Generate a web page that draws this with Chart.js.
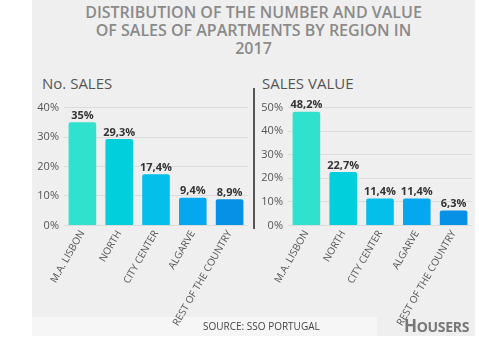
<!DOCTYPE html>
<html><head><meta charset="utf-8">
<script src="https://cdn.jsdelivr.net/npm/chart.js@4/dist/chart.umd.min.js"></script>
<style>
html,body{margin:0;padding:0;background:#fff;}
body{width:479px;height:354px;position:relative;overflow:hidden;font-family:"Open Sans",sans-serif;}
#panel{position:absolute;left:32px;top:0;width:443px;height:336px;background:#efefef;}
#title{position:absolute;left:32px;width:443px;top:3px;text-align:center;color:#8a8a8a;font-weight:600;font-size:16px;line-height:18px;}
.sub{position:absolute;top:73px;font-size:15px;color:#555;}
#sep{position:absolute;left:253px;top:88px;width:2px;height:141px;background:#555;}
#srcbox{position:absolute;left:32px;top:317px;width:345px;height:19px;background:#f6f6f6;}
#src{position:absolute;left:203px;top:319px;font-size:10px;color:#444;}
#logo{position:absolute;left:404px;top:314px;font-size:14px;font-weight:700;color:#777;letter-spacing:-0.3px;}
.cw{position:absolute;}
</style></head>
<body>
<div id="panel"></div>
<div id="srcbox"></div>
<div id="title">DISTRIBUTION OF THE NUMBER AND VALUE<br>OF SALES OF APARTMENTS BY REGION IN<br>2017</div>
<div class="sub" style="left:42px">No. SALES</div>
<div class="sub" style="left:262px">SALES VALUE</div>
<div id="sep"></div>
<div class="cw" style="left:36px;top:96px;width:212px;height:235px"><canvas id="c1"></canvas></div>
<div class="cw" style="left:260px;top:96px;width:212px;height:235px"><canvas id="c2"></canvas></div>
<div id="src">SOURCE: SSO PORTUGAL</div>
<div id="logo"><span style="font-size:17px">H</span>OUSERS</div>
<script>
const categories = ["M.A. LISBON","NORTH","CITY CENTER","ALGARVE","REST OF THE COUNTRY"];
const salesCount = [35, 29.3, 17.4, 9.4, 8.9];
const salesValue = [48.2, 22.7, 11.4, 11.4, 6.3];
const countTicks = [0,10,20,30,40];
const valueTicks = [0,10,20,30,40,50];
const barColors = ["#30e2cd","#02cfdc","#03bfe9","#05a8ef","#0791e6"];

const fmt = v => String(v).replace('.', ',') + '%';

const valueLabels = {
  id: 'valueLabels',
  afterDatasetsDraw(chart) {
    const ctx = chart.ctx;
    ctx.save();
    ctx.font = 'bold 11px "Open Sans", sans-serif';
    ctx.fillStyle = '#333';
    ctx.textAlign = 'center';
    ctx.textBaseline = 'bottom';
    chart.getDatasetMeta(0).data.forEach((bar, i) => {
      ctx.fillText(fmt(chart.data.datasets[0].data[i]), bar.x, bar.y - 1);
    });
    ctx.restore();
  }
};

function make(id, data, ticks) {
  const max = ticks[ticks.length - 1];
  return new Chart(document.getElementById(id), {
    type: 'bar',
    data: { labels: categories, datasets: [{ data: data, backgroundColor: barColors, borderRadius: 2, borderSkipped: 'bottom', categoryPercentage: 0.75, barPercentage: 1 }] },
    options: {
      responsive: true, maintainAspectRatio: false, animation: false,
      layout: { padding: { top: 6, right: 0, left: 0, bottom: 0 } },
      plugins: { legend: { display: false }, tooltip: { enabled: false } },
      scales: {
        x: {
          grid: { display: false, drawTicks: false },
          border: { display: false },
          ticks: { minRotation: 60, maxRotation: 60, autoSkip: false, padding: 3, color: '#555', font: { family: '"Open Sans", sans-serif', size: 10 } }
        },
        y: {
          min: 0, max: max,
          afterFit: s => { s.width = 28; },
          afterBuildTicks: s => { s.ticks = ticks.map(v => ({ value: v })); },
          grid: { color: '#dcdcdc', drawTicks: false },
          border: { display: false },
          ticks: { padding: 5, color: '#555', font: { family: '"Open Sans", sans-serif', size: 11 }, callback: v => v + '%' }
        }
      }
    },
    plugins: [valueLabels]
  });
}
make('c1', salesCount, countTicks);
make('c2', salesValue, valueTicks);
</script>
</body></html>
